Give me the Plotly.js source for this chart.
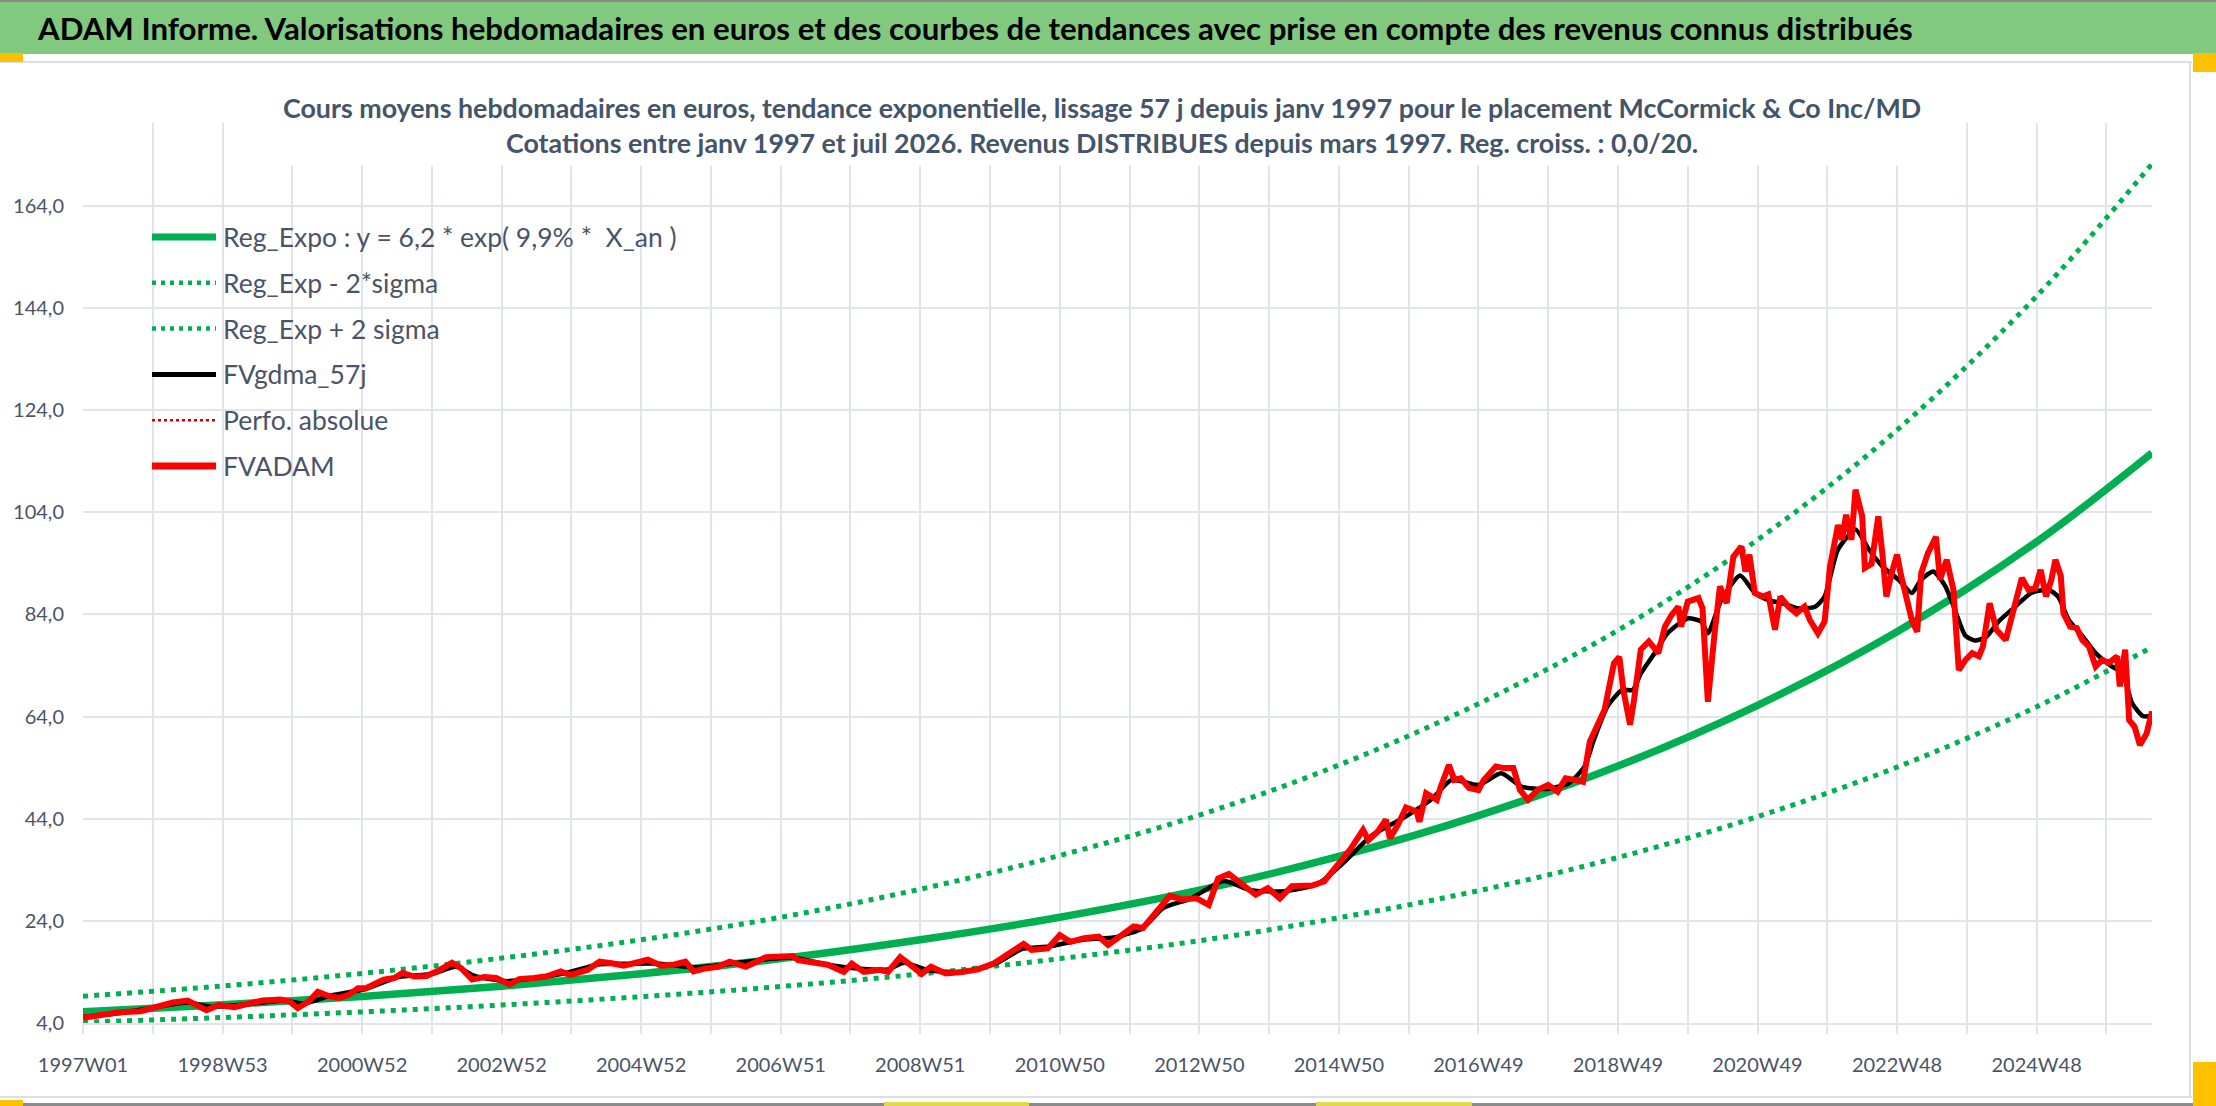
<!DOCTYPE html>
<html>
<head>
<meta charset="utf-8">
<script src="https://cdn.plot.ly/plotly-3.0.1.min.js"></script>
<style>
  html, body { margin: 0; padding: 0; background: #fff; }
  #chart { width: 2216px; height: 1106px; }
</style>
</head>
<body>
<div id="chart"></div>
<script>
// ── Data (x = week index since 1997W01) ───────────────────────────────
const WEEK_LABELS = [
  '1997W01', '1998W53', '2000W52', '2002W52', '2004W52', '2006W51', '2008W51',
  '2010W50', '2012W50', '2014W50', '2016W49', '2018W49', '2020W49', '2022W48', '2024W48',
];
const LAST_WEEK = 1542;   // juil 2026

// Reg_Expo and its ±2 sigma band
const REG_X  = [0, 104, 208, 312, 416, 520, 624, 728, 832, 936, 1040, 1144, 1248, 1352, 1456, 1542];
const REG_Y  = [6.2, 7.55, 9.2, 11.2, 13.65, 16.6, 20.3, 24.7, 30.0, 36.6, 44.6, 54.3, 66.2, 80.6, 98.2, 115.6];
const REG_LO = [4.16, 5.07, 6.17, 7.52, 9.16, 11.14, 13.6, 16.6, 20.1, 24.6, 29.9, 36.4, 44.4, 54.1, 65.9, 77.6];
const REG_HI = [9.24, 11.25, 13.7, 16.7, 20.3, 24.7, 30.2, 36.8, 44.7, 54.5, 66.5, 80.9, 98.6, 120.1, 146.3, 172.2];

// FVADAM weekly valuation (sampled)
const FV_X = [
  0, 12, 27, 43, 55, 67, 78, 85, 92, 101, 113, 125, 134, 147, 154, 160, 168, 175, 183, 191,
  198, 205, 211, 217, 224, 232, 238, 247, 256, 266, 275, 282, 290, 299, 308, 318, 325, 336, 345, 356,
  363, 376, 385, 394, 403, 412, 421, 431, 440, 449, 455, 464, 473, 482, 494, 509, 521, 529, 533, 546,
  555, 567, 573, 582, 594, 600, 609, 615, 625, 632, 643, 655, 667, 679, 691, 701, 707, 719, 728, 736,
  746, 757, 764, 774, 783, 790, 798, 810, 819, 830, 839, 846, 854, 862, 874, 883, 892, 901, 916, 925,
  932, 938, 945, 954, 958, 965, 971, 974, 980, 986, 994, 996, 1001, 1009, 1012, 1018, 1022, 1027, 1033, 1040,
  1044, 1053, 1059, 1066, 1071, 1077, 1084, 1092, 1099, 1105, 1112, 1118, 1123, 1129, 1134, 1141, 1145, 1148, 1153, 1156,
  1161, 1167, 1174, 1179, 1184, 1189, 1191, 1196, 1204, 1207, 1211, 1216, 1220, 1225, 1230, 1236, 1239, 1242, 1246, 1252,
  1256, 1261, 1265, 1271, 1277, 1283, 1287, 1293, 1298, 1302, 1308, 1311, 1314, 1318, 1321, 1326, 1328, 1333, 1338, 1341,
  1344, 1348, 1352, 1355, 1360, 1363, 1367, 1370, 1375, 1381, 1384, 1389, 1394, 1398, 1403, 1408, 1413, 1416, 1421, 1426,
  1433, 1440, 1445, 1450, 1455, 1459, 1463, 1467, 1470, 1474, 1476, 1481, 1486, 1490, 1495, 1500, 1505, 1510, 1516, 1518,
  1522, 1525, 1529, 1533, 1538, 1542,
];
const FV_Y = [
  5.0, 5.6, 6.1, 6.3, 7.3, 8.0, 8.4, 7.6, 6.5, 7.5, 7.1, 7.9, 8.4, 8.6, 8.2, 6.9, 8.2, 10.1, 9.3, 8.9,
  9.5, 10.8, 10.8, 11.6, 12.5, 12.8, 13.8, 13.1, 13.2, 14.4, 15.8, 14.7, 12.5, 13.0, 12.8, 11.5, 12.6, 12.8, 13.1, 14.1,
  13.4, 14.4, 16.0, 15.7, 15.2, 15.8, 16.4, 15.2, 15.4, 16.0, 14.1, 14.7, 15.0, 16.0, 15.0, 16.9, 17.0, 17.1, 16.3, 15.8,
  15.4, 14.0, 15.6, 14.0, 14.4, 14.0, 16.9, 15.7, 13.6, 15.0, 13.7, 14.0, 14.5, 15.7, 17.6, 19.5, 18.3, 18.6, 21.2, 19.9,
  20.6, 20.9, 19.3, 21.2, 22.9, 22.6, 25.2, 28.9, 28.2, 28.4, 27.1, 32.3, 33.2, 31.7, 29.1, 30.4, 28.4, 30.8, 30.9, 31.7,
  33.8, 35.9, 38.2, 41.8, 39.8, 41.5, 43.8, 40.2, 42.8, 46.2, 45.4, 43.4, 49.0, 47.7, 50.3, 54.5, 51.6, 51.9, 50.0, 49.6,
  51.6, 54.2, 53.9, 53.9, 49.6, 47.7, 49.6, 50.6, 49.3, 51.9, 51.6, 51.2, 59.1, 62.7, 65.3, 74.4, 75.7, 69.2, 62.4, 67.3,
  77.1, 78.7, 76.4, 81.6, 83.9, 85.5, 81.6, 86.5, 87.2, 85.2, 66.9, 80.3, 89.5, 86.2, 95.3, 97.3, 92.4, 95.7, 88.2, 87.5,
  87.9, 81.0, 87.5, 85.5, 84.2, 85.5, 82.9, 80.3, 82.6, 93.4, 101.5, 98.6, 103.5, 98.6, 108.4, 103.2, 93.1, 93.9, 103.2, 96.0,
  87.5, 92.1, 95.7, 91.6, 86.8, 82.9, 80.6, 92.1, 96.0, 99.2, 90.8, 94.7, 88.8, 73.1, 75.1, 76.4, 75.8, 77.7, 86.2, 81.0,
  79.0, 86.8, 91.1, 88.8, 89.1, 92.7, 87.5, 90.8, 94.7, 91.6, 84.2, 81.6, 81.3, 79.0, 77.7, 73.8, 75.1, 74.5, 75.8, 69.9,
  77.1, 63.3, 62.0, 58.4, 60.7, 65.0,
];

// FVgdma_57j smoothed valuation (sampled)
const MA_X = [
  0, 26, 52, 78, 95, 120, 150, 165, 185, 210, 235, 260, 278, 292, 315, 335, 360, 385, 410, 430,
  455, 480, 510, 530, 555, 580, 600, 612, 630, 655, 680, 700, 720, 745, 770, 790, 805, 825, 850, 870,
  895, 920, 940, 960, 985, 1005, 1020, 1040, 1057, 1072, 1090, 1107, 1119, 1126, 1136, 1147, 1155, 1161, 1171, 1181,
  1196, 1206, 1211, 1221, 1235, 1246, 1256, 1266, 1278, 1291, 1298, 1308, 1321, 1331, 1341, 1353, 1363, 1370, 1379, 1388,
  1395, 1403, 1410, 1418, 1428, 1440, 1452, 1465, 1472, 1480, 1490, 1500, 1512, 1520, 1527, 1535, 1542,
];
const MA_Y = [
  5.2, 5.9, 7.0, 8.0, 7.2, 7.6, 8.4, 7.8, 9.4, 10.6, 13.0, 13.6, 15.0, 13.2, 12.2, 12.7, 13.8, 15.5, 15.6, 15.6,
  14.9, 15.5, 16.5, 16.8, 15.4, 14.6, 14.5, 15.8, 14.3, 14.0, 15.6, 18.5, 19.0, 20.3, 20.8, 22.6, 26.5, 28.3, 31.8, 30.0,
  29.8, 31.2, 35.5, 40.6, 44.3, 47.8, 51.6, 50.6, 52.9, 50.3, 49.8, 50.9, 54.2, 59.4, 65.9, 69.2, 69.2, 72.4, 76.3, 80.3,
  83.2, 82.6, 80.3, 86.8, 91.6, 88.2, 86.8, 86.2, 85.2, 85.5, 87.5, 96.7, 100.6, 96.7, 93.4, 90.8, 88.2, 90.8, 92.4, 89.5,
  85.0, 79.8, 78.9, 79.5, 82.7, 85.5, 88.2, 88.8, 87.5, 82.9, 79.8, 76.4, 73.8, 72.5, 66.7, 64.1, 64.1,
];

const Y_TICKS = [4, 24, 44, 64, 84, 104, 124, 144, 164];

// ── Page geometry (px) ───────────────────────────────────────────────
const W = 2216, H = 1106;
const M = { l: 83, r: 64, t: 123, b: 83 };
const PW = W - M.l - M.r, PH = H - M.t - M.b;
const px = x => (x - M.l) / PW;
const py = y => 1 - (y - M.t) / PH;

const C = {
  green: '#00b050',
  red: '#ff0000',
  darkRed: '#d00000',
  black: '#000000',
  grid: '#e1e4ea',
  text: '#4a5466',
  banner: '#80c97f',
  handle: '#ffc000',
};
const FONT = 'Lato, "Open Sans", sans-serif';
const DOTS = '5px,6px';

// ── Traces ───────────────────────────────────────────────────────────
const traces = [
  { x: REG_X, y: REG_Y, name: 'Reg_Expo', type: 'scatter', mode: 'lines',
    line: { color: C.green, width: 7.5, shape: 'spline' } },
  { x: REG_X, y: REG_LO, name: 'Reg_Exp - 2*sigma', type: 'scatter', mode: 'lines',
    line: { color: C.green, width: 5, dash: DOTS, shape: 'spline' } },
  { x: REG_X, y: REG_HI, name: 'Reg_Exp + 2 sigma', type: 'scatter', mode: 'lines',
    line: { color: C.green, width: 5, dash: DOTS, shape: 'spline' } },
  { x: MA_X, y: MA_Y, name: 'FVgdma_57j', type: 'scatter', mode: 'lines',
    line: { color: C.black, width: 4.5, shape: 'spline', smoothing: 0.6 } },
  { x: FV_X, y: FV_Y, name: 'Perfo. absolue', type: 'scatter', mode: 'lines',
    line: { color: C.darkRed, width: 2, dash: 'dot' } },
  { x: FV_X, y: FV_Y, name: 'FVADAM', type: 'scatter', mode: 'lines',
    line: { color: C.red, width: 6 } },
].map(t => ({ ...t, showlegend: false, hovertemplate: '%{y:.1f}<extra>' + t.name + '</extra>' }));

// ── Ticks ────────────────────────────────────────────────────────────
const xTickVals = [], xTickText = [];
for (let k = 0; k * 52 <= LAST_WEEK - 30; k++) {
  xTickVals.push(k * 52);
  xTickText.push(k % 2 === 0 ? WEEK_LABELS[k / 2] : '');
}

// ── Frame, banner, handles ───────────────────────────────────────────
const rect = (x0, y0, x1, y1, color) => ({
  type: 'rect', xref: 'paper', yref: 'paper', layer: 'above',
  x0: px(x0), x1: px(x1), y0: py(y1), y1: py(y0),
  fillcolor: color, line: { width: 0 },
});
const shapes = [
  rect(0, 0, W, 2, '#8a8a8a'),
  rect(0, 2, W, 54, C.banner),
  rect(0, 61, 2192, 63, '#dcdfe5'),
  rect(2189, 61, 2191, 1098, '#dcdfe5'),
  rect(0, 1096, 2192, 1098, '#dcdfe5'),
  rect(0, 1103, W, H, '#8a8a8a'),
  rect(0, 53, 23, 62, C.handle),
  rect(2193, 53, W, 72, C.handle),
  rect(2193, 1062, W, H, C.handle),
  rect(0, 1100, 23, H, C.handle),
  rect(884, 1102, 1029, H, '#e6d84c'),
  rect(1316, 1102, 1472, H, '#e6d84c'),
];

// manual legend, inside the plot at top left
const LEGEND = [
  { text: 'Reg_Expo : y = 6,2 * exp( 9,9% *  X_an )', color: C.green, width: 7 },
  { text: 'Reg_Exp - 2*sigma', color: C.green, width: 4.5, dash: '4px,5px' },
  { text: 'Reg_Exp + 2 sigma', color: C.green, width: 4.5, dash: '4px,5px' },
  { text: 'FVgdma_57j', color: C.black, width: 5 },
  { text: 'Perfo. absolue', color: C.darkRed, width: 2.5, dash: '3px,3px' },
  { text: 'FVADAM', color: C.red, width: 7 },
];
const annotations = [];
LEGEND.forEach((it, i) => {
  const y = 237 + i * 45.8;
  shapes.push({
    type: 'line', xref: 'paper', yref: 'paper', layer: 'above',
    x0: px(152), x1: px(216), y0: py(y), y1: py(y),
    line: { color: it.color, width: it.width, dash: it.dash || 'solid' },
  });
  annotations.push({
    xref: 'paper', yref: 'paper', x: px(221), y: py(y), xanchor: 'left', yanchor: 'middle',
    text: it.text, showarrow: false, font: { family: FONT, size: 26.5, color: C.text },
  });
});

annotations.push({
  xref: 'paper', yref: 'paper', x: px(35), y: py(28), xanchor: 'left', yanchor: 'middle',
  text: '<b>ADAM Informe. Valorisations hebdomadaires en euros et des courbes de tendances avec prise en compte des revenus connus distribués</b>',
  showarrow: false, font: { family: FONT, size: 31.2, color: '#000000' },
});
annotations.push({
  xref: 'paper', yref: 'paper', x: px(1102), y: py(125), xanchor: 'center', yanchor: 'middle',
  text: '<b>Cours moyens hebdomadaires en euros, tendance exponentielle, lissage 57 j depuis janv 1997 pour le placement McCormick & Co Inc/MD</b><br>' +
        '<b>Cotations entre janv 1997 et juil 2026. Revenus DISTRIBUES depuis mars 1997. Reg. croiss. : 0,0/20.</b>',
  showarrow: false, align: 'center', bgcolor: '#ffffff', borderpad: 6,
  font: { family: FONT, size: 26.8, color: '#44546a' },
});

const layout = {
  width: W, height: H,
  margin: { l: M.l, r: M.r, t: M.t, b: M.b, pad: 0 },
  paper_bgcolor: '#ffffff',
  plot_bgcolor: '#ffffff',
  separators: ', ',
  font: { family: FONT, color: C.text },
  xaxis: {
    type: 'linear', range: [0, LAST_WEEK], fixedrange: true,
    tickmode: 'array', tickvals: xTickVals, ticktext: xTickText,
    showgrid: true, gridcolor: C.grid, gridwidth: 2,
    ticks: 'outside', ticklen: 9, tickwidth: 2, tickcolor: C.grid,
    ticklabelstandoff: 14,
    showline: true, linecolor: C.grid, linewidth: 2,
    zeroline: false,
    tickfont: { family: FONT, size: 20, color: C.text },
  },
  yaxis: {
    range: [4, 180.2], fixedrange: true,
    tickmode: 'array', tickvals: Y_TICKS, tickformat: '.1f',
    showgrid: true, gridcolor: C.grid, gridwidth: 2,
    zeroline: false, showline: false,
    ticks: '', ticklabelstandoff: 18,
    tickfont: { family: FONT, size: 20, color: C.text },
  },
  shapes,
  annotations,
  hovermode: 'closest',
};

Plotly.newPlot('chart', traces, layout, { displayModeBar: false, responsive: false });
</script>
</body>
</html>
